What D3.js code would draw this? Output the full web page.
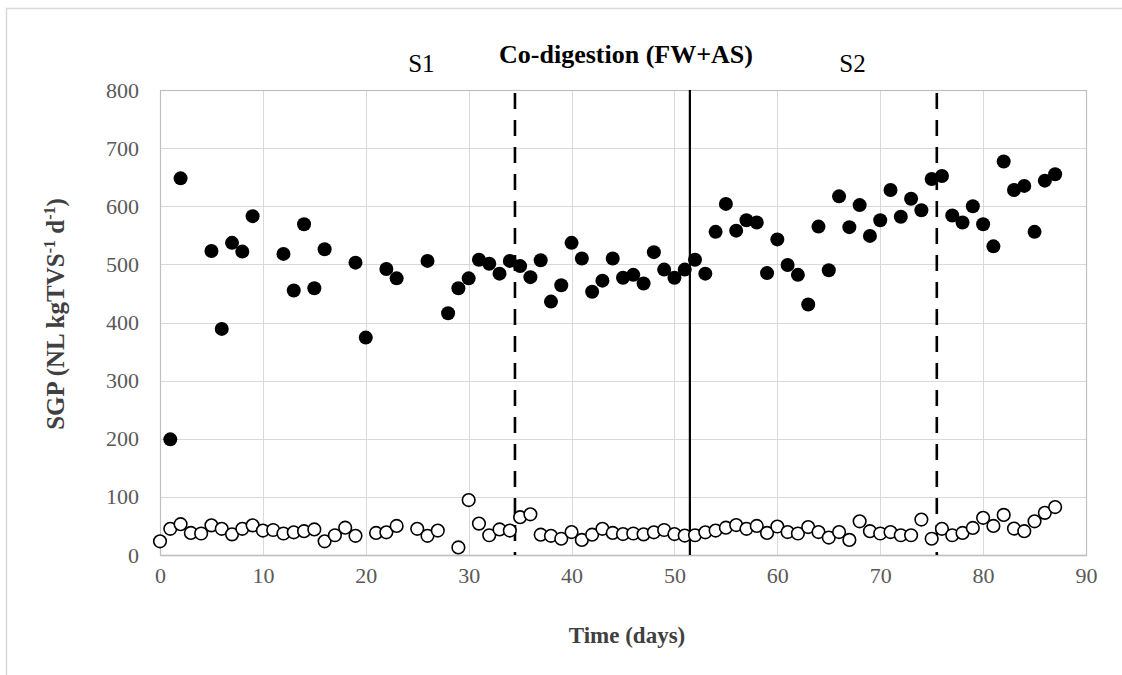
<!DOCTYPE html>
<meta charset="utf-8">
<style>
body { margin: 0; background: white; }
svg { font-family: "Liberation Serif", "Times New Roman", serif; }
.grid line { stroke: #d9d9d9; stroke-width: 1; shape-rendering: crispEdges; }
.tick text { fill: #595959; font-size: 22px; }
</style>
<script src="https://d3js.org/d3.v7.min.js"></script>
<body>
<script>

// filled markers (upper series)
var filledDays = [1,2,5,6,7,8,9,12,13,14,15,16,19,20,22,23,26,28,29,30,31,32,33,34,35,36,37,38,39,40,
  41,42,43,44,45,46,47,48,49,50,51,52,53,54,55,56,57,58,59,60,61,62,63,64,65,66,67,68,69,70,
  71,72,73,74,75,76,77,78,79,80,81,82,83,84,85,86,87];
var filledVals = [199,648,523,389,537,522,583,518,455,569,459,526,503,374,492,476,506,416,459,476,508,501,484,506,497,478,507,436,464,537,
  510,453,472,510,477,482,467,521,491,477,491,508,484,556,604,558,576,572,485,543,499,482,431,565,490,617,564,602,549,576,
  628,582,613,593,647,652,584,572,600,569,531,677,628,635,556,644,655];

// open markers (lower series)
var openDays = [0,1,2,3,4,5,6,7,8,9,10,11,12,13,14,15,16,17,18,19,21,22,23,25,26,27,
  29,30,31,32,33,34,35,36,37,38,39,40,41,42,43,44,45,46,47,48,49,50,51,52,53,54,55,56,57,58,59,60,
  61,62,63,64,65,66,67,68,69,70,71,72,73,74,75,76,77,78,79,80,81,82,83,84,85,86,87];
var openVals = [23.5,45,53,38,37,51,45,35.5,45,51,42,43,37,39,41,44,23.5,34,47,33,38,39,50,45,33,42,
  13,94.5,54,34,44,42,65,70,35,33,28,39.5,26,35,45,38,36,37,35.5,39,43,36,33.5,34,39,42,47,51.5,45,50,38,49,
  39.5,37,48,39.5,30,39.5,26,58,41,37,39.5,34,34,61,28,45,34,38,46.5,64,50,69,45.5,41,58,72.5,82.5];

var xTicks = [0,10,20,30,40,50,60,70,80,90];
var yTicks = [0,100,200,300,400,500,600,700,800];

// phase separators and labels
var phaseLines = [34.5, 51.5, 75.5];
var phaseDash = ["16,11", null, "16,11"];
var phaseLabels = ["S1", "S2"];
var phaseLabelDays = [25.4, 67.3];

var W = 1122, H = 675;
var margin = {top: 90, right: 36, bottom: 120, left: 160},
    width = 926,
    height = 465;
var serif = "'Liberation Serif', 'Times New Roman', serif";

var svg = d3.select("body").append("svg")
    .attr("width", W)
    .attr("height", H);

// outer chart frame
svg.append("rect")
    .attr("x", 6.5).attr("y", 8.5)
    .attr("width", 1130).attr("height", 700)
    .attr("fill", "none")
    .attr("stroke", "#d9d9d9")
    .attr("stroke-width", 1.5);

var g = svg.append("g")
    .attr("transform", "translate(" + margin.left + "," + margin.top + ")");

var x = d3.scaleLinear().domain([0, 90]).range([0, width]);
var y = d3.scaleLinear().domain([0, 800]).range([height, 0]);

// grid
g.append("g").attr("class", "grid")
  .selectAll("line.h").data(yTicks).enter().append("line")
    .attr("x1", 0).attr("x2", width)
    .attr("y1", function(d) { return Math.round(y(d)) + 0.5; })
    .attr("y2", function(d) { return Math.round(y(d)) + 0.5; });
g.select(".grid")
  .selectAll("line.v").data(xTicks).enter().append("line")
    .attr("y1", 0).attr("y2", height)
    .attr("x1", function(d) { return Math.round(x(d)) + 0.5; })
    .attr("x2", function(d) { return Math.round(x(d)) + 0.5; });

// plot border
g.append("rect")
    .attr("x", 0.5).attr("y", 0.5)
    .attr("width", width).attr("height", height)
    .attr("fill", "none")
    .attr("stroke", "#bfbfbf")
    .attr("stroke-width", 1.2);

// axes
var xAxis = d3.axisBottom(x).tickValues(xTicks).tickSize(0).tickPadding(12);
var yAxis = d3.axisLeft(y).tickValues(yTicks).tickSize(0).tickPadding(21);

var gx = g.append("g")
    .attr("transform", "translate(0," + height + ")")
    .call(xAxis);
gx.select(".domain").attr("stroke", "#bfbfbf").attr("stroke-width", 1.5);

var gy = g.append("g")
    .call(yAxis);
gy.select(".domain").remove();

g.selectAll(".tick text").style("font-family", serif);

// phase lines
g.selectAll(".phase")
    .data(phaseLines)
  .enter().append("line")
    .attr("class", "phase")
    .attr("x1", function(d) { return x(d); })
    .attr("x2", function(d) { return x(d); })
    .attr("y1", function(d, i) { return phaseDash[i] ? 3 : 0; })
    .attr("y2", height)
    .attr("stroke", "black")
    .attr("stroke-width", function(d, i) { return phaseDash[i] ? 2.6 : 2.2; })
    .attr("stroke-dasharray", function(d, i) { return phaseDash[i]; });

// open markers
g.selectAll(".open")
    .data(openDays)
  .enter().append("circle")
    .attr("class", "open")
    .attr("r", 6.3)
    .attr("cx", function(d) { return x(d); })
    .attr("cy", function(d, i) { return y(openVals[i]); })
    .attr("fill", "white")
    .attr("stroke", "black")
    .attr("stroke-width", 1.6);

// filled markers
g.selectAll(".filled")
    .data(filledDays)
  .enter().append("circle")
    .attr("class", "filled")
    .attr("r", 7)
    .attr("cx", function(d) { return x(d); })
    .attr("cy", function(d, i) { return y(filledVals[i]); })
    .attr("fill", "black");

// top labels
svg.append("text")
    .attr("x", 626).attr("y", 63)
    .attr("text-anchor", "middle")
    .attr("font-weight", "bold")
    .attr("font-size", "26px")
    .text("Co-digestion (FW+AS)");

svg.selectAll(".plabel")
    .data(phaseLabels)
  .enter().append("text")
    .attr("class", "plabel")
    .attr("x", function(d, i) { return margin.left + x(phaseLabelDays[i]); })
    .attr("y", 72)
    .attr("text-anchor", "middle")
    .attr("font-size", "25px")
    .text(function(d) { return d; });

// axis titles
svg.append("text")
    .attr("x", 627).attr("y", 643)
    .attr("text-anchor", "middle")
    .attr("font-weight", "bold")
    .attr("font-size", "23px")
    .attr("fill", "#404040")
    .text("Time (days)");

var yl = svg.append("text")
    .attr("transform", "translate(64,314) rotate(-90)")
    .attr("text-anchor", "middle")
    .attr("font-weight", "bold")
    .attr("font-size", "25px")
    .attr("fill", "#404040");
yl.append("tspan").text("SGP (NL kgTVS");
yl.append("tspan").attr("font-size", "16px").attr("dy", -9).text("-1");
yl.append("tspan").attr("dy", 9).text(" d");
yl.append("tspan").attr("font-size", "16px").attr("dy", -9).text("-1");
yl.append("tspan").attr("dy", 9).text(")");

</script>
